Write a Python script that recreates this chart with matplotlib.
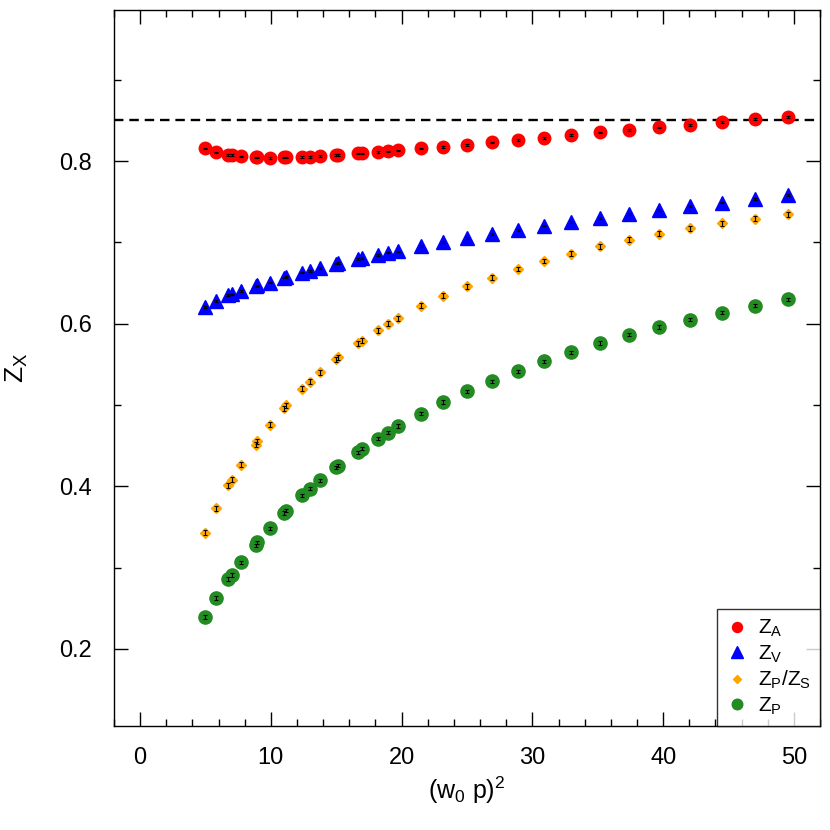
import matplotlib
matplotlib.use("Agg")
import matplotlib.pyplot as plt
from matplotlib.ticker import MultipleLocator

plt.rcParams['font.family'] = ['Liberation Sans', 'DejaVu Sans']
plt.rcParams['mathtext.fontset'] = 'custom'
plt.rcParams['mathtext.rm'] = 'Liberation Sans'
plt.rcParams['mathtext.it'] = 'Liberation Sans'

# momenta (w0 p)^2
x = [4.95, 5.8, 6.73, 7.0, 7.72, 8.84, 8.97, 9.9, 11.0, 11.13, 12.39, 12.96,
     13.72, 14.98, 15.17, 16.64, 16.94, 18.16, 18.93, 19.76, 21.47, 23.19,
     25.02, 26.93, 28.89, 30.89, 32.98, 35.16, 37.37, 39.69, 42.05, 44.49,
     47.0, 49.57]

z_a = [0.8156, 0.8107, 0.8078, 0.8074, 0.8058, 0.8046, 0.8046, 0.8041, 0.8046,
       0.8046, 0.8049, 0.8053, 0.8062, 0.8074, 0.8074, 0.8095, 0.8095, 0.8111,
       0.8120, 0.8132, 0.8156, 0.8176, 0.8201, 0.8230, 0.8259, 0.8287, 0.8320,
       0.8354, 0.8382, 0.8415, 0.8447, 0.8480, 0.8517, 0.8546]

z_v = [0.6205, 0.6279, 0.6353, 0.6361, 0.6402, 0.6464, 0.6472, 0.6506, 0.6567,
       0.6575, 0.6629, 0.6649, 0.6685, 0.6740, 0.6743, 0.6793, 0.6805, 0.6842,
       0.6875, 0.6890, 0.6957, 0.7006, 0.7051, 0.7100, 0.7154, 0.7208, 0.7252,
       0.7301, 0.7351, 0.7400, 0.7446, 0.7491, 0.7536, 0.7581]

z_ps = [0.3426, 0.3729, 0.4012, 0.4082, 0.4263, 0.4513, 0.4554, 0.4756, 0.4957,
        0.4994, 0.5200, 0.5286, 0.5404, 0.5561, 0.5585, 0.5758, 0.5791, 0.5918,
        0.6000, 0.6069, 0.6222, 0.6345, 0.6460, 0.6567, 0.6673, 0.6772, 0.6863,
        0.6953, 0.7035, 0.7109, 0.7175, 0.7236, 0.7294, 0.7347]

z_p = [0.2391, 0.2625, 0.2859, 0.2908, 0.3063, 0.3273, 0.3310, 0.3482, 0.3672,
       0.3700, 0.3889, 0.3968, 0.4074, 0.4234, 0.4255, 0.4419, 0.4460, 0.4587,
       0.4661, 0.4741, 0.4892, 0.5035, 0.5166, 0.5290, 0.5413, 0.5536, 0.5650,
       0.5761, 0.5865, 0.5959, 0.6050, 0.6136, 0.6222, 0.6300]

# rough statistical errors
err_a = 0.001
err_v = 0.001
err_ps = 0.003
err_p = 0.002

z_limit = 0.85

fig = plt.figure(figsize=(8.3, 8.3), dpi=100)
ax = fig.add_axes([0.1373, 0.1253, 0.8507, 0.8627])

ax.axhline(z_limit, color='black', ls=(0, (4, 2.5)), lw=1.7, zorder=1)

ax.plot(x, z_a, 'o', color='red', ms=9, mec='red', label=r'Z$_\mathrm{A}$', zorder=2)
ax.plot(x, z_v, '^', color='blue', ms=10.5, mec='blue', label=r'Z$_\mathrm{V}$', zorder=2)
ax.plot(x, z_ps, 'D', color='orange', ms=5.5, mec='orange', label=r'Z$_\mathrm{P}$/Z$_\mathrm{S}$', zorder=2)
ax.plot(x, z_p, 'o', color='forestgreen', ms=9.5, mec='forestgreen', label=r'Z$_\mathrm{P}$', zorder=2)

for ys, e in [(z_a, err_a), (z_v, err_v), (z_ps, err_ps), (z_p, err_p)]:
    ax.errorbar(x, ys, yerr=e, fmt='none', ecolor='black', elinewidth=0.8,
                capsize=1.5, capthick=0.8, zorder=3)

ax.set_xlim(-2, 52)
ax.set_ylim(0.105, 0.986)
ax.xaxis.set_major_locator(MultipleLocator(10))
ax.xaxis.set_minor_locator(MultipleLocator(2))
ax.yaxis.set_major_locator(MultipleLocator(0.2))
ax.yaxis.set_minor_locator(MultipleLocator(0.1))
ax.tick_params(which='both', direction='in', top=True, right=True, labelsize=17)
ax.tick_params(which='major', length=10, width=1)
ax.tick_params(which='minor', length=5, width=1)
ax.tick_params(axis='x', pad=15)
ax.tick_params(axis='y', pad=16)
for s in ax.spines.values():
    s.set_linewidth(1)

ax.set_xlabel(r'(w$_0$ p)$^2$', fontsize=18, labelpad=4)
ax.set_ylabel(r'Z$_\mathrm{X}$', fontsize=19, labelpad=21)

leg = ax.legend(loc='lower right', fontsize=15, frameon=True, fancybox=False,
                borderaxespad=0, handlelength=1.0, handletextpad=0.5,
                labelspacing=0.2, markerscale=0.8, borderpad=0.45)
leg.get_frame().set_edgecolor('black')
leg.get_frame().set_linewidth(1)

fig.savefig('out.png', dpi=100)
